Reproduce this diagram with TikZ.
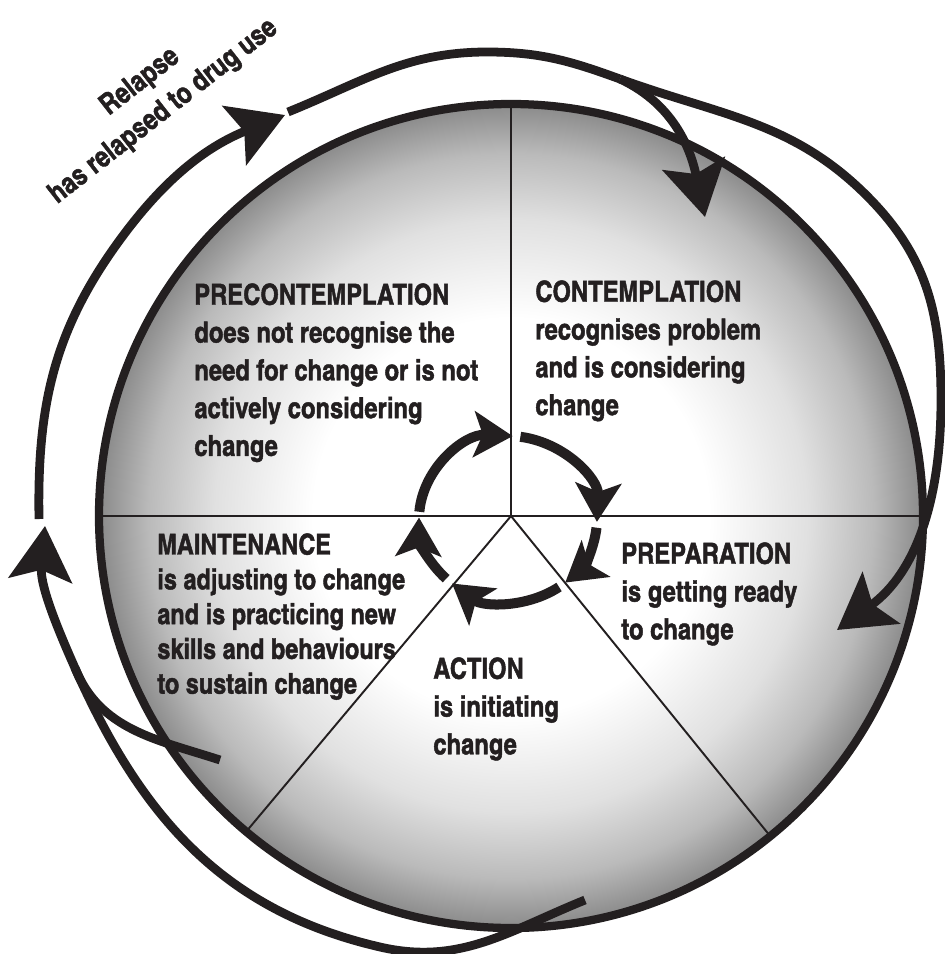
\documentclass[tikz,border=0pt]{standalone}
\usepackage{fontspec}
\newfontfamily\stagefont{TeX Gyre Heros Cn}[BoldFeatures={FakeBold=1.5}]
\usetikzlibrary{arrows.meta}
\definecolor{ink}{HTML}{231F20}
\pgfdeclareradialshading{stageshade}{\pgfpoint{0bp}{0bp}}{color(0bp)=(white); color(12bp)=(white); color(18bp)=(black!12); color(22bp)=(black!27); color(25bp)=(black!46); color(50bp)=(black!46)}
\tikzset{
  outline/.style={draw=ink, line width=4.7pt},
  divider/.style={draw=ink, line width=1.1pt},
  relapse/.style={draw=ink, line width=5pt, -{Stealth[length=31pt, width=36pt, inset=6pt]}},
  relapseline/.style={draw=ink, line width=5pt},
  cycle/.style={draw=ink, line width=5.7pt, -{Stealth[length=22pt, width=26pt, inset=5pt]}},
  stage/.style={anchor=north west, inner sep=0pt, align=left, text=ink,
    font=\stagefont\bfseries\fontsize{16.5}{21.5}\selectfont},
}

\begin{document}
\begin{tikzpicture}[x=0.02cm, y=0.02cm]
  \useasboundingbox (0,0) rectangle (944,-954);
  \coordinate (hub) at (511,-516);
  \coordinate (ring) at (508,-519);

  \shade[shading=stageshade] (hub) circle (412);
  \foreach \a in {0,90,180,230,309}
    \draw[divider] (hub) -- ++(\a:412);
  \draw[outline] (hub) circle (412);

  \node[stage] (precon) at (194,-283) {PRECONTEMPLATION\\does not recognise the\\need for change or is not\\actively considering\\change};
  \node[stage] (contem) at (535,-280) {CONTEMPLATION\\recognises problem\\and is considering\\change};
  \node[stage] (prep) at (621,-542) {PREPARATION\\is getting ready\\to change};
  \node[stage] (action) at (433,-657) {ACTION\\is initiating\\change};
  \node[stage, font=\stagefont\bfseries\fontsize{16.3}{19.8}\selectfont] (maint) at (157,-533) {MAINTENANCE\\is adjusting to change\\and is practicing new\\skills and behaviours\\to sustain change};
  \node[stage, anchor=center, align=center, rotate=38] (relapselabel) at (152,-97) {Relapse\\has relapsed to drug use};

  \foreach \s/\e in {175/87, 82/-2, -6/-50, -55/-129, -134/-181}
    \draw[cycle] ([shift={(\s:89 and 83)}]ring) arc[start angle=\s, end angle=\e, x radius=89, y radius=83];

  \coordinate (l0) at (39,-519);
  \coordinate (l1) at (125,-233);
  \coordinate (tipa) at (285,-115);
  \coordinate (t0) at (288,-112);
  \coordinate (top) at (487,-52);
  \coordinate (fork) at (620,-79);
  \coordinate (tipc) at (705,-217);
  \coordinate (r1) at (871,-200);
  \coordinate (r2) at (941,-400);
  \coordinate (tipp) at (837,-630);
  \coordinate (act) at (585,-900);
  \coordinate (b1) at (380,-947);
  \coordinate (b2) at (75,-668);
  \coordinate (tipm) at (45,-526);
  \coordinate (mnt) at (220,-760);

  \draw[relapse] (l0) to[out=91,in=233] (l1) to[out=53,in=202] (tipa);
  \draw[relapseline] (t0) to[out=22,in=180] (top) to[out=0,in=160] (fork);
  \draw[relapse] (fork) to[out=-25,in=102] (tipc);
  \draw[relapse] (fork) to[out=-20,in=134] (r1) to[out=-46,in=90] (r2) to[out=-90,in=36] (tipp);
  \draw[relapse] (act) to[out=202,in=-13] (b1) to[out=167,in=-66] (b2) to[out=114,in=-95] (tipm);
  \draw[relapseline] (mnt) to[out=162,in=-68] (b2);
\end{tikzpicture}
\end{document}
